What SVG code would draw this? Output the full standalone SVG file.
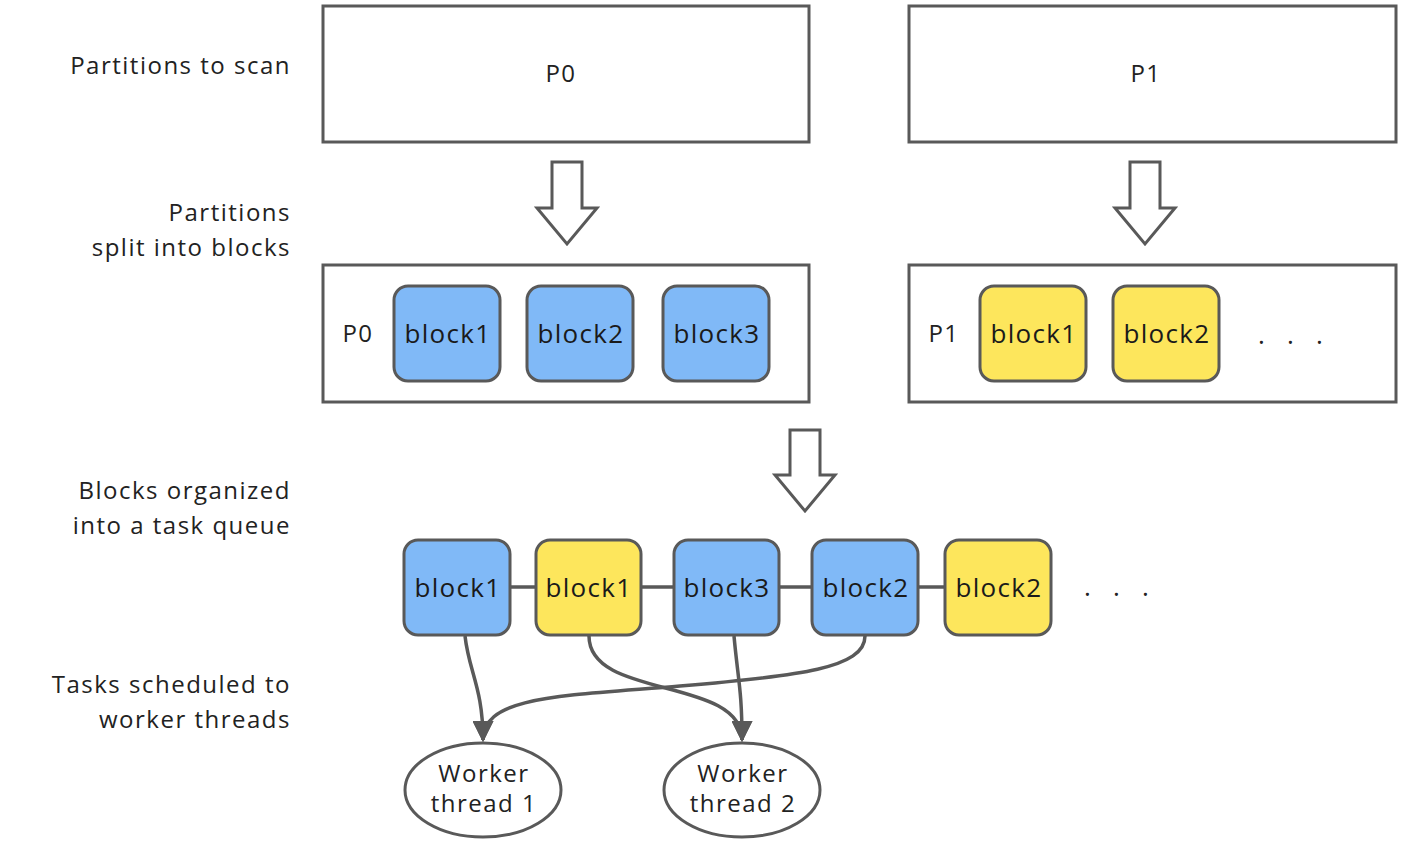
<svg xmlns="http://www.w3.org/2000/svg" width="1408" height="844" viewBox="0 0 1408 844">
<defs>
<style>
.box{fill:#fff;stroke:#595959;stroke-width:3}
.blue{fill:#80b9f7;stroke:#595959;stroke-width:3}
.yel{fill:#fde65c;stroke:#595959;stroke-width:3}
.harrow{fill:#fff;stroke:#595959;stroke-width:3;stroke-linejoin:miter}
.lbl{font-family:"Open Sans","Noto Sans",sans-serif;font-size:24px;letter-spacing:1.5px;fill:#222;text-anchor:end}
.t{font-family:"Open Sans","Noto Sans",sans-serif;font-size:24px;letter-spacing:1.5px;fill:#222;text-anchor:middle}
.bt{font-family:"Open Sans","Noto Sans",sans-serif;font-size:26px;letter-spacing:1.3px;fill:#1a1a1a;text-anchor:middle}
.dots{font-family:"Open Sans","Noto Sans",sans-serif;font-size:26px;fill:#222}
.conn{fill:none;stroke:#595959;stroke-width:3.5}
</style>
<marker id="ah" viewBox="0 0 10 10" refX="9" refY="5" markerWidth="6" markerHeight="6" markerUnits="strokeWidth" orient="auto">
<path d="M0,0 L10,5 L0,10 z" fill="#595959"/>
</marker>
</defs>
<rect width="1408" height="844" fill="#fff"/>

<g id="labels">
<text class="lbl" x="291" y="74">Partitions to scan</text>
<text class="lbl" x="291" y="221">Partitions</text>
<text class="lbl" x="291" y="256">split into blocks</text>
<text class="lbl" x="291" y="499">Blocks organized</text>
<text class="lbl" x="291" y="534">into a task queue</text>
<text class="lbl" x="291" y="693">Tasks scheduled to</text>
<text class="lbl" x="291" y="728">worker threads</text>
</g>

<g id="p0-top"><rect class="box" x="323" y="6" width="486" height="136"/><text class="t" x="561" y="82">P0</text></g>
<g id="p1-top"><rect class="box" x="909" y="6" width="487" height="136"/><text class="t" x="1146" y="82">P1</text></g>

<g id="arrow-p0"><path class="harrow" d="M552,162 H582 V208 H597 L567,244 L537,208 H552 Z"/></g>
<g id="arrow-p1"><path class="harrow" d="M1130,162 H1160 V208 H1175 L1145,244 L1115,208 H1130 Z"/></g>
<g id="arrow-queue"><path class="harrow" d="M790,430 H820 V475 H835 L805,511 L775,475 H790 Z"/></g>

<g id="p0-split">
<rect class="box" x="323" y="265" width="486" height="137"/>
<text class="t" x="358" y="342">P0</text>
</g>
<g id="p0-block1"><rect class="blue" x="394" y="286" width="106" height="95" rx="14"/><text class="bt" x="448" y="343">block1</text></g>
<g id="p0-block2"><rect class="blue" x="527" y="286" width="106" height="95" rx="14"/><text class="bt" x="581" y="343">block2</text></g>
<g id="p0-block3"><rect class="blue" x="663" y="286" width="106" height="95" rx="14"/><text class="bt" x="717" y="343">block3</text></g>

<g id="p1-split">
<rect class="box" x="909" y="265" width="487" height="137"/>
<text class="t" x="944" y="342">P1</text>
<text class="dots" x="1258 1287 1316" y="344">...</text>
</g>
<g id="p1-block1"><rect class="yel" x="980" y="286" width="106" height="95" rx="14"/><text class="bt" x="1034" y="343">block1</text></g>
<g id="p1-block2"><rect class="yel" x="1113" y="286" width="106" height="95" rx="14"/><text class="bt" x="1167" y="343">block2</text></g>

<g id="connectors">
<line class="conn" x1="510" y1="587" x2="536" y2="587"/>
<line class="conn" x1="641" y1="587" x2="674" y2="587"/>
<line class="conn" x1="779" y1="587" x2="812" y2="587"/>
<line class="conn" x1="918" y1="587" x2="945" y2="587"/>
<path class="conn" d="M465,636 C469,672 483,688 483,740" marker-end="url(#ah)"/>
<path class="conn" d="M589,636 C589,700 742,676 742,740" marker-end="url(#ah)"/>
<path class="conn" d="M734,636 C738,680 742,690 742,740" marker-end="url(#ah)"/>
<path class="conn" d="M865,636 C865,668 800,676 680,686 C560,696 483,696 483,740" marker-end="url(#ah)"/>
</g>

<g id="q-blue-block1"><rect class="blue" x="404" y="540" width="106" height="95" rx="14"/><text class="bt" x="458" y="597">block1</text></g>
<g id="q-yel-block1"><rect class="yel" x="536" y="540" width="105" height="95" rx="14"/><text class="bt" x="589" y="597">block1</text></g>
<g id="q-blue-block3"><rect class="blue" x="674" y="540" width="105" height="95" rx="14"/><text class="bt" x="727" y="597">block3</text></g>
<g id="q-blue-block2"><rect class="blue" x="812" y="540" width="106" height="95" rx="14"/><text class="bt" x="866" y="597">block2</text></g>
<g id="q-yel-block2"><rect class="yel" x="945" y="540" width="106" height="95" rx="14"/><text class="bt" x="999" y="597">block2</text></g>
<g id="q-dots"><text class="dots" x="1084 1113 1142" y="596">...</text></g>

<g id="worker1"><ellipse class="box" cx="483" cy="790" rx="78" ry="47"/><text class="t" x="484" y="782">Worker</text><text class="t" x="484" y="812">thread 1</text></g>
<g id="worker2"><ellipse class="box" cx="742" cy="790" rx="78" ry="47"/><text class="t" x="743" y="782">Worker</text><text class="t" x="743" y="812">thread 2</text></g>
</svg>
